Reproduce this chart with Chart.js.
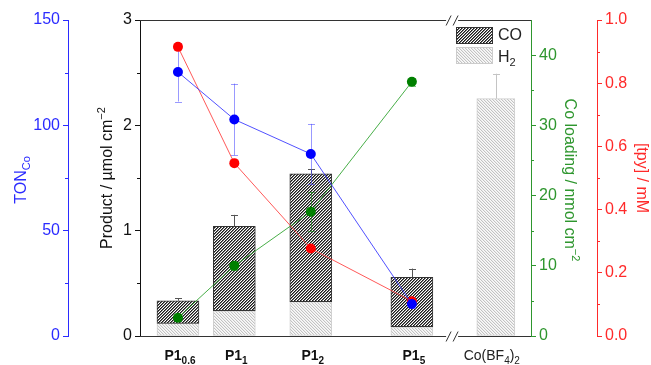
<!DOCTYPE html>
<html><head><meta charset="utf-8">
<script src="https://cdn.jsdelivr.net/npm/chart.js@4.4.0/dist/chart.umd.min.js"></script>
<style>html,body{margin:0;padding:0;background:#fff;}#wrap{width:651px;height:365px;position:relative;}</style>
</head><body><div id="wrap"><canvas id="c" width="651" height="365"></canvas></div>
<script>
// ---- data ----
const loadings = [0.6, 1, 2, 5];               // P1 loading (log-spaced x positions)
const sampleSubs = ['0.6', '1', '2', '5'];      // subscripts for P1 labels
const h2Product = [0.12, 0.24, 0.326, 0.088];   // µmol cm-2
const coProduct = [0.215, 0.80, 1.214, 0.469];  // µmol cm-2
const productErr = [0.025, 0.11, 0.045, 0.083];
const refH2 = [2.253];                           // Co(BF4)2 H2
const refErr = [0.237];
const tonCo = [125.3, 102.8, 86.4, 15.2];
const tonErr = [14, 17, 14.3, 2];
const tpy = [0.915, 0.547, 0.277, 0.11];         // mM
const coLoading = [2.6, 10.0, 17.7, 36.2];       // nmol cm-2
const coLoadingErr = [0.4, 0.6, 2.8, 0.6];
const refSlot = 10.7;   // nominal x of the Co(BF4)2 bar behind the axis break
const breakAt = 7.2;    // x of the axis break

const F = '"Liberation Sans", Arial, sans-serif';
const BLUE = '#2b2bff', GREEN = '#2e962e', RED = '#ff2a2a';

function makePattern(n, fn) {
  const c = document.createElement('canvas'); c.width = c.height = n;
  const g = c.getContext('2d'); const img = g.createImageData(n, n);
  for (let y = 0; y < n; y++) for (let x = 0; x < n; x++) {
    const v = fn(x, y); const k = (y * n + x) * 4;
    img.data[k] = img.data[k + 1] = img.data[k + 2] = v; img.data[k + 3] = 255;
  }
  g.putImageData(img, 0, 0);
  return g.createPattern(c, 'repeat');
}
const coPat = makePattern(3, (x, y) => [25, 120, 255][(x + y) % 3]);
const h2Pat = makePattern(3, (x, y) => [195, 236, 250][(x - y + 30) % 3]);

function rich(ctx, parts, x, y, rot) {
  ctx.save(); ctx.translate(x, y); ctx.rotate(rot || 0);
  let w = 0;
  parts.forEach(p => { ctx.font = (p.b ? 'bold ' : '') + p.s + 'px ' + F; p.w = ctx.measureText(p.t).width; w += p.w; });
  let cx = -w / 2; ctx.textAlign = 'left'; ctx.textBaseline = 'alphabetic';
  parts.forEach(p => { ctx.font = (p.b ? 'bold ' : '') + p.s + 'px ' + F; ctx.fillStyle = p.c; ctx.fillText(p.t, cx, p.dy || 0); cx += p.w; });
  ctx.restore();
}

const decor = {
  id: 'decor',
  afterDatasetDraw(chart, args) {
    if (args.index !== 2) return;
    const ctx = chart.ctx, x = chart.scales.x, y = chart.scales.y, yT = chart.scales.yTon, yC = chart.scales.yCo;
    function err(px, v, e, sc, color, lower, cap) {
      const t = sc.getPixelForValue(v + e), b = sc.getPixelForValue(lower ? v - e : v);
      ctx.save(); ctx.strokeStyle = color; ctx.lineWidth = 1; ctx.beginPath();
      const X = Math.round(px) + 0.5;
      ctx.moveTo(X, t); ctx.lineTo(X, b);
      ctx.moveTo(X - cap, Math.round(t) + 0.5); ctx.lineTo(X + cap, Math.round(t) + 0.5);
      if (lower) { ctx.moveTo(X - cap, Math.round(b) + 0.5); ctx.lineTo(X + cap, Math.round(b) + 0.5); }
      ctx.stroke(); ctx.restore();
    }
    loadings.forEach((l, i) => {
      const px = x.getPixelForValue(l);
      err(px, h2Product[i] + coProduct[i], productErr[i], y, '#555', false, 3.5);
    });
    err(x.getPixelForValue(refSlot), refH2[0], refErr[0], y, '#c4c4c4', false, 3.5);
    loadings.forEach((l, i) => {
      const px = x.getPixelForValue(l);
      err(px, tonCo[i], tonErr[i], yT, 'rgba(70,70,255,0.55)', true, 3.5);
      err(px, coLoading[i], coLoadingErr[i], yC, 'rgba(0,140,0,0.5)', true, 3.5);
    });
  },
  afterDraw(chart) {
    const ctx = chart.ctx, a = chart.chartArea, x = chart.scales.x;
    const bx = x.getPixelForValue(breakAt);
    ctx.save();
    ctx.strokeStyle = '#333'; ctx.lineWidth = 1;
    [a.top, a.bottom].forEach(yy => {
      const Y = Math.round(yy) + 0.5;
      ctx.beginPath();
      ctx.moveTo(a.left, Y); ctx.lineTo(bx - 6, Y);
      ctx.moveTo(bx + 6, Y); ctx.lineTo(a.right, Y);
      ctx.moveTo(bx - 6, Y + 5); ctx.lineTo(bx - 1, Y - 5);
      ctx.moveTo(bx + 1, Y + 5); ctx.lineTo(bx + 6, Y - 5);
      ctx.stroke();
    });
    // legend
    const lx = a.right - 75, ly = a.top + 7;
    ctx.fillStyle = coPat; ctx.fillRect(lx, ly, 37, 17);
    ctx.strokeStyle = '#333'; ctx.strokeRect(lx + 0.5, ly + 0.5, 36, 16);
    ctx.fillStyle = h2Pat; ctx.fillRect(lx, ly + 20, 37, 17);
    ctx.strokeStyle = '#ccc'; ctx.strokeRect(lx + 0.5, ly + 20.5, 36, 16);
    ctx.restore();
    ctx.save(); ctx.fillStyle = '#222'; ctx.font = '16px ' + F; ctx.textBaseline = 'middle';
    ctx.fillText('CO', lx + 42, ly + 9);
    ctx.restore();
    ctx.save(); ctx.textBaseline = 'alphabetic';
    ctx.fillStyle = '#222'; ctx.font = '16px ' + F; ctx.fillText('H', lx + 42, ly + 35);
    const hw = ctx.measureText('H').width; ctx.font = '11px ' + F; ctx.fillText('2', lx + 42 + hw, ly + 39);
    ctx.restore();
    // x labels
    const by = a.bottom + 24;
    loadings.forEach((l, i) => {
      rich(ctx, [{t: 'P1', s: 14, b: true, c: '#111'}, {t: sampleSubs[i], s: 10, b: true, c: '#111', dy: 4}], x.getPixelForValue(l) + 2, by);
    });
    rich(ctx, [{t: 'Co(BF', s: 14, c: '#222'}, {t: '4', s: 10, c: '#222', dy: 4}, {t: ')', s: 14, c: '#222'}, {t: '2', s: 10, c: '#222', dy: 4}], x.getPixelForValue(refSlot) - 4, by);
    // axis titles
    const cy = (a.top + a.bottom) / 2;
    rich(ctx, [{t: 'TON', s: 16, c: BLUE}, {t: 'Co', s: 11, c: BLUE, dy: 4}], 26, cy + 2, -Math.PI / 2);
    rich(ctx, [{t: 'Product / \u00b5mol cm', s: 16, c: '#111'}, {t: '\u22122', s: 11, c: '#111', dy: -7}], 112, cy, -Math.PI / 2);
    rich(ctx, [{t: 'Co loading / nmol cm', s: 16, c: GREEN}, {t: '\u22122', s: 11, c: GREEN, dy: -7}], 565, cy + 2, Math.PI / 2);
    rich(ctx, [{t: '[tpy] / mM', s: 16, c: RED}], 637, cy, Math.PI / 2);
    // minor ticks
    const minors = [['yTon', [25, 75, 125], BLUE, -1], ['y', [0.5, 1.5, 2.5], '#111', -1], ['yCo', [5, 15, 25, 35], GREEN, 1], ['yTpy', [0.1, 0.3, 0.5, 0.7, 0.9], RED, 1]];
    minors.forEach(([id, vals, col, dir]) => {
      const s = chart.scales[id]; const ax = dir < 0 ? s.right : s.left;
      ctx.save(); ctx.strokeStyle = col; ctx.lineWidth = 1; ctx.beginPath();
      vals.forEach(v => { const Y = Math.round(s.getPixelForValue(v)) + 0.5; ctx.moveTo(ax, Y); ctx.lineTo(ax + dir * 3, Y); });
      ctx.stroke(); ctx.restore();
    });
  }
};

function yAxis(pos, weight, min, max, step, color, width, cb) {
  return {
    type: 'linear', position: pos, weight, min, max,
    ticks: {stepSize: step, color, font: {size: 16, family: F}, padding: 3, includeBounds: false, callback: cb || (v => v)},
    grid: {drawOnChartArea: false, drawTicks: true, tickLength: 5, tickColor: color, tickWidth: 1},
    border: {color, width: 1},
    afterFit: s => { s.width = width; }
  };
}

new Chart(document.getElementById('c'), {
  type: 'bar',
  data: {
    datasets: [
      {type: 'bar', label: 'H2', data: loadings.map((l, i) => ({x: l, y: h2Product[i]})), yAxisID: 'y',
       backgroundColor: h2Pat, borderColor: '#cfcfcf', borderWidth: 1, borderSkipped: false, barThickness: 42, grouped: false, order: 20},
      {type: 'bar', label: 'H2 ref', data: refH2.map(v => ({x: refSlot, y: v})), yAxisID: 'y',
       backgroundColor: h2Pat, borderColor: '#cfcfcf', borderWidth: 1, borderSkipped: false, barThickness: 38, grouped: false, order: 20},
      {type: 'bar', label: 'CO', data: loadings.map((l, i) => ({x: l, y: [h2Product[i], h2Product[i] + coProduct[i]]})), yAxisID: 'y',
       backgroundColor: coPat, borderColor: '#333', borderWidth: 1, borderSkipped: false, barThickness: 42, grouped: false, order: 19},
      {type: 'line', label: 'Co loading', data: loadings.map((l, i) => ({x: l, y: coLoading[i]})), yAxisID: 'yCo',
       borderColor: 'rgba(40,160,40,0.85)', borderWidth: 1, pointRadius: 5, pointBackgroundColor: '#008000', pointBorderWidth: 0, tension: 0, order: 3},
      {type: 'line', label: 'tpy', data: loadings.map((l, i) => ({x: l, y: tpy[i]})), yAxisID: 'yTpy',
       borderColor: 'rgba(255,60,60,0.85)', borderWidth: 1, pointRadius: 5, pointBackgroundColor: '#ff0000', pointBorderWidth: 0, tension: 0, order: 2},
      {type: 'line', label: 'TON', data: loadings.map((l, i) => ({x: l, y: tonCo[i]})), yAxisID: 'yTon',
       borderColor: 'rgba(50,50,255,0.85)', borderWidth: 1, pointRadius: 5, pointBackgroundColor: '#0000ff', pointBorderWidth: 0, tension: 0, order: 1}
    ]
  },
  options: {
    responsive: false, animation: false, devicePixelRatio: 1,
    layout: {padding: {top: 20, bottom: 29, left: 0, right: 0}},
    plugins: {legend: {display: false}, tooltip: {enabled: false}},
    scales: {
      x: {type: 'logarithmic', min: 0.4253, max: 14.72, display: false},
      yTon: yAxis('left', 1, 0, 150, 50, BLUE, 68),
      y: yAxis('left', 0, 0, 3, 1, '#111', 72),
      yCo: yAxis('right', 0, 0, 45, 10, GREEN, 66),
      yTpy: yAxis('right', 1, 0, 1, 0.2, RED, 54, v => v.toFixed(1))
    }
  },
  plugins: [decor]
});
</script></body></html>
